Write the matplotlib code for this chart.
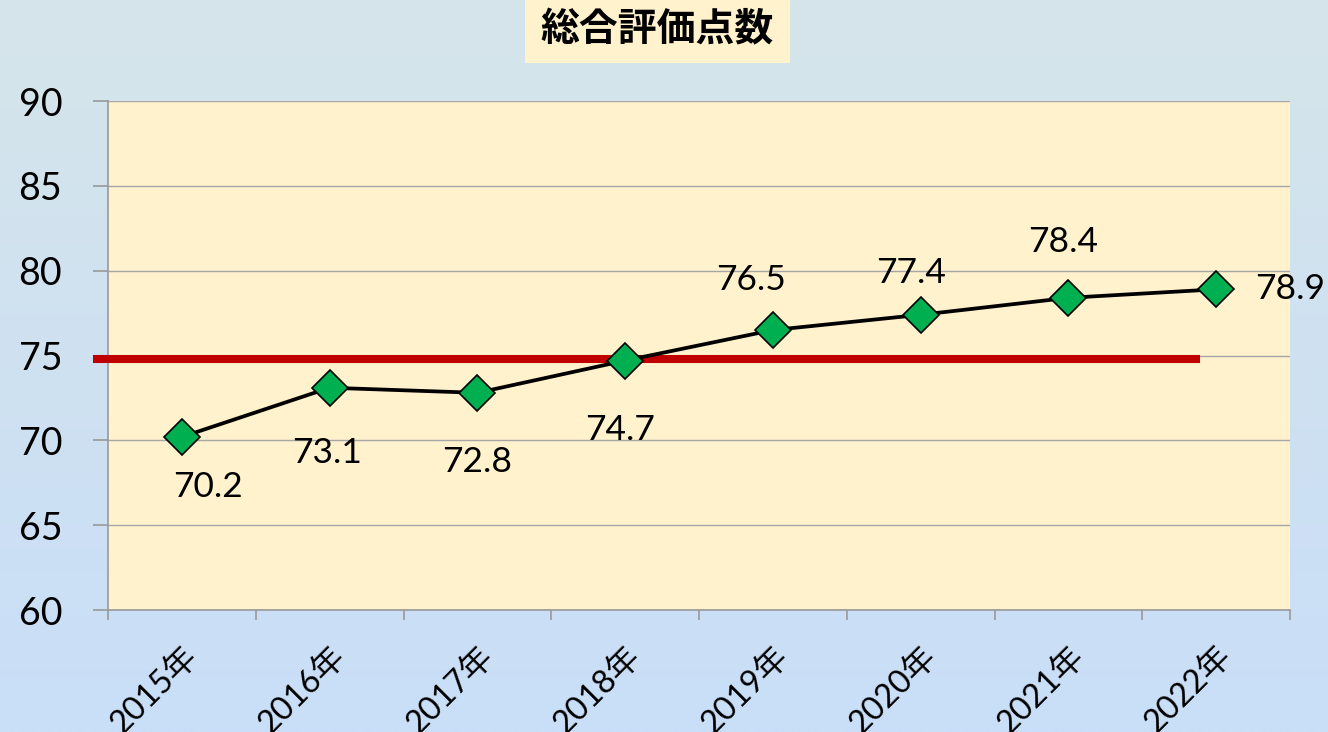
import numpy as np
import matplotlib.pyplot as plt
from matplotlib.colors import LinearSegmentedColormap

plt.rcParams['font.family'] = ['Lato', 'Noto Sans CJK JP', 'DejaVu Sans']

# --- データ ---
years = ["2015年", "2016年", "2017年", "2018年", "2019年", "2020年", "2021年", "2022年"]
scores = [70.2, 73.1, 72.8, 74.7, 76.5, 77.4, 78.4, 78.9]
ref_score = 74.8
title = "総合評価点数"

# ラベルの位置 (ポイント単位のオフセット)
label_offsets = [(19, -36), (-2, -47), (0, -50), (-4, -50),
                 (-16, 36), (-7, 30), (-4, 40), (53, 0)]

fig = plt.figure(figsize=(13.28, 7.32), dpi=100)

# 背景グラデーション
bg = LinearSegmentedColormap.from_list("bg", ["#D5E5EA", "#C9DEF8"])
bg_ax = fig.add_axes([0, 0, 1, 1], zorder=-10)
bg_ax.imshow(np.linspace(0, 1, 256).reshape(-1, 1), aspect="auto", cmap=bg,
             extent=[0, 1, 0, 1])
bg_ax.axis("off")

ax = fig.add_axes([108 / 1328, 1 - 610 / 732, 1182 / 1328, 509 / 732])
ax.set_facecolor("#FFF2CC")

x = np.arange(len(years))
ax.plot(x, scores, color="black", lw=2.7, marker="D", markersize=18,
        markerfacecolor="#00B050", markeredgecolor="black", markeredgewidth=1.2,
        zorder=5)

# 基準線
ax.axhline(ref_score, xmin=-0.0093, xmax=0.9205, color="#C00000", lw=5.8,
           clip_on=False, zorder=3)

for xi, v, off in zip(x, scores, label_offsets):
    ax.annotate(f"{v:.1f}", (xi, v), xytext=off, textcoords="offset points",
                ha="center", va="center", fontsize=25.5, annotation_clip=False,
                zorder=6)

ax.set_ylim(60, 90)
ax.set_yticks(range(60, 91, 5))
ax.set_xlim(-0.5, len(years) - 0.5)
ax.set_xticks(x)
ax.set_xticklabels(years, rotation=45, ha="right", va="top",
                   rotation_mode="anchor")
ax.set_xticks(np.arange(-0.5, len(years)), minor=True)

ax.grid(axis="y", color="#A6A6A6", lw=1)
ax.set_axisbelow(True)
for s in ["top", "right"]:
    ax.spines[s].set_visible(False)
for s in ["left", "bottom"]:
    ax.spines[s].set_color("#999999")
    ax.spines[s].set_linewidth(1.2)

ax.tick_params(axis="y", length=11, color="#999999", width=1.2, pad=22,
               labelsize=27)
ax.tick_params(axis="x", which="major", length=0, pad=22, labelsize=23.5)
ax.tick_params(axis="x", which="minor", length=7, color="#999999", width=1.2)

fig.text(0.495, 0.96, title, ha="center", va="center", fontsize=28,
         fontweight="bold",
         bbox=dict(boxstyle="square,pad=0.4", facecolor="#FFF2CC",
                   edgecolor="none"))

fig.savefig("out.png", dpi=100)
